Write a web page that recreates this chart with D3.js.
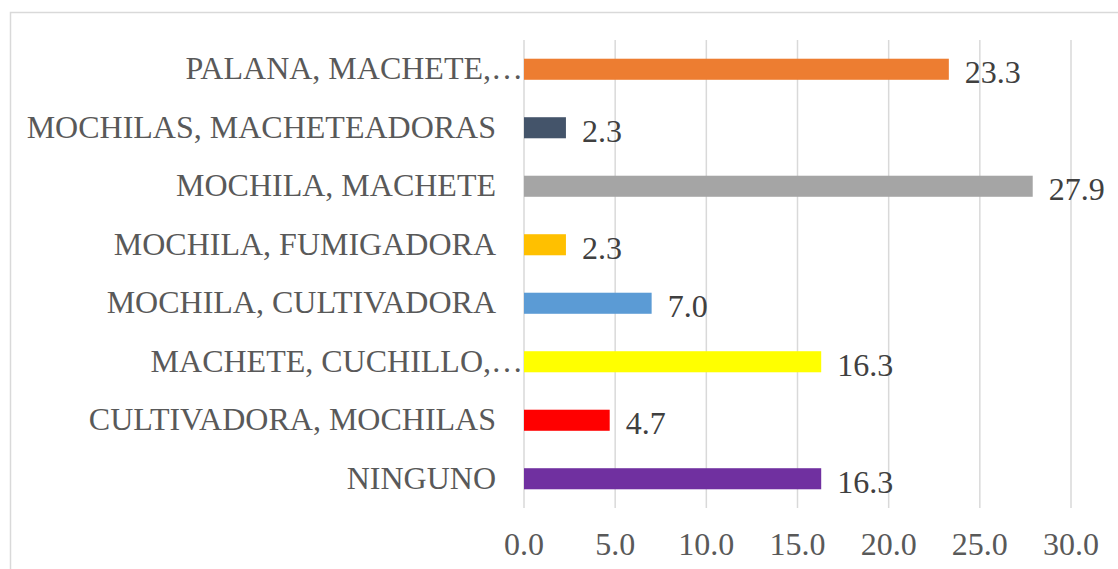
<!DOCTYPE html>
<html>
<head>
<meta charset="utf-8">
<script src="https://cdn.jsdelivr.net/npm/d3@7"></script>
<style>
  body { margin: 0; background: #fff; }
  text { font-family: "Liberation Serif", "Times New Roman", serif; }
</style>
</head>
<body>
<div id="chart"></div>
<script>
// categories from top to bottom
var categories = ["PALANA, MACHETE,…", "MOCHILAS, MACHETEADORAS", "MOCHILA, MACHETE",
  "MOCHILA, FUMIGADORA", "MOCHILA, CULTIVADORA", "MACHETE, CUCHILLO,…",
  "CULTIVADORA, MOCHILAS", "NINGUNO"];
var values = [23.3, 2.3, 27.9, 2.3, 7.0, 16.3, 4.7, 16.3];
var colors = ["#ED7D31", "#44546A", "#A5A5A5", "#FFC000", "#5B9BD5", "#FFFF00", "#FF0000", "#7030A0"];
var ticks = [0, 5, 10, 15, 20, 25, 30];

var W = 1118, H = 569;
var margin = {top: 40, right: 47, bottom: 61, left: 524};
var width = W - margin.left - margin.right,
    height = H - margin.top - margin.bottom;

var svg = d3.select("#chart").append("svg")
    .attr("width", W).attr("height", H);

// chart border
svg.append("rect")
    .attr("x", 10.5).attr("y", 12.5)
    .attr("width", W + 20).attr("height", H + 20)
    .attr("fill", "none").attr("stroke", "#d9d9d9").attr("stroke-width", 1.5);

var g = svg.append("g")
    .attr("transform", "translate(" + margin.left + "," + margin.top + ")");

var x = d3.scaleLinear().domain([0, 30]).range([0, width]);
var y = d3.scaleBand().domain(categories).range([0, height]).paddingInner(0.64).paddingOuter(0.32);

// gridlines
g.selectAll(".grid")
  .data(ticks)
  .enter()
  .append("line")
    .attr("x1", function(d) { return x(d); })
    .attr("x2", function(d) { return x(d); })
    .attr("y1", 0).attr("y2", height)
    .attr("stroke", "#d9d9d9").attr("stroke-width", 1.5);

// x tick labels
g.selectAll(".xt")
  .data(ticks)
  .enter()
  .append("text")
    .attr("x", function(d) { return x(d); })
    .attr("y", height + 47)
    .attr("text-anchor", "middle")
    .attr("fill", "#595959")
    .style("font-size", "32px")
    .text(function(d) { return d.toFixed(1); });

// category labels (truncated ones run up to the axis like Excel does)
g.selectAll(".yt")
  .data(categories)
  .enter()
  .append("text")
    .attr("x", function(d) { return d.slice(-1) === "…" ? -1 : -28; })
    .attr("y", function(d) { return y(d) + y.bandwidth() / 2; })
    .attr("dy", "0.32em")
    .attr("text-anchor", "end")
    .attr("fill", "#595959")
    .style("font-size", "32px")
    .text(function(d) { return d; });

// bars
g.selectAll(".bar")
  .data(values)
  .enter()
  .append("rect")
    .attr("x", x(0))
    .attr("y", function(d, i) { return y(categories[i]); })
    .attr("width", function(d) { return x(d) - x(0); })
    .attr("height", y.bandwidth())
    .attr("fill", function(d, i) { return colors[i]; });

// value labels
g.selectAll(".val")
  .data(values)
  .enter()
  .append("text")
    .attr("x", function(d) { return x(d) + 16; })
    .attr("y", function(d, i) { return y(categories[i]) + y.bandwidth() / 2; })
    .attr("dy", "0.44em")
    .attr("fill", "#404040")
    .style("font-size", "32px")
    .text(function(d) { return d.toFixed(1); });
</script>
</body>
</html>
